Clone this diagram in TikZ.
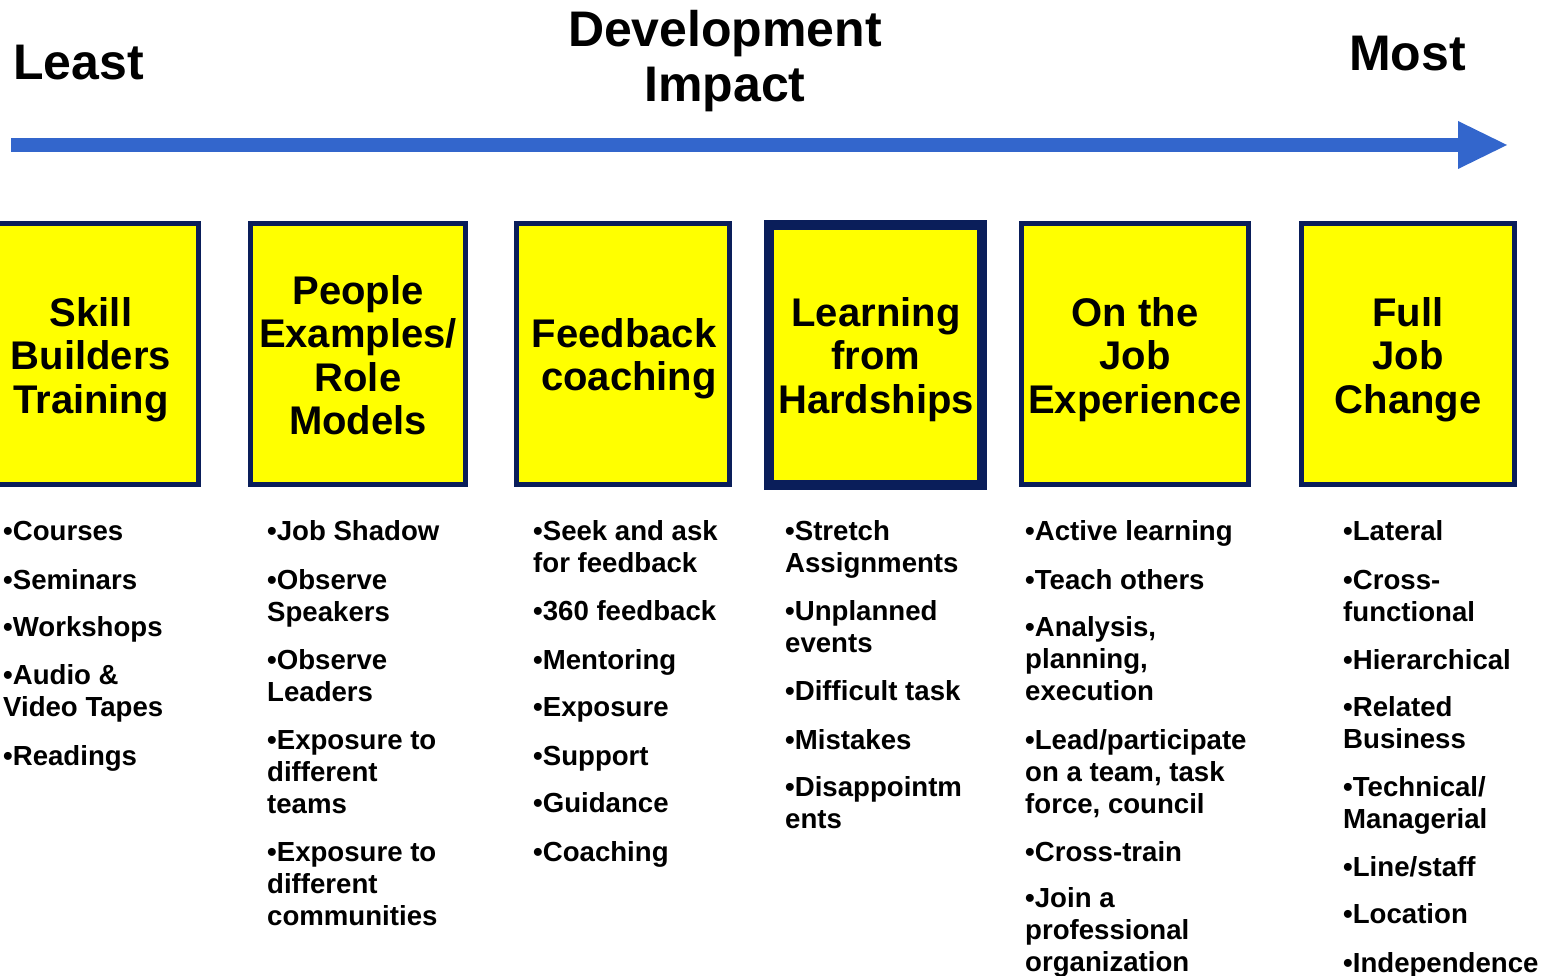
\documentclass[tikz,border=0pt]{standalone}
\usepackage{fontspec}
\setmainfont{Liberation Sans}
\definecolor{boxnavy}{RGB}{10,30,90}
\definecolor{boxyellow}{RGB}{255,255,0}
\definecolor{impactblue}{RGB}{51,102,204}
\newcommand\stk[1]{\begin{tabular}[t]{@{}l@{}}#1\end{tabular}}
\newcommand\ctr[1]{\begin{tabular}[t]{@{}c@{}}#1\end{tabular}}
\tikzset{
  stagebox/.style={draw=boxnavy, fill=boxyellow, line width=5pt, inner sep=0pt},
  stagetitle/.style={anchor=base, inner sep=0pt, font=\fontsize{40}{43.5}\selectfont\bfseries},
  listitem/.style={anchor=base west, inner sep=0pt, font=\fontsize{27.6}{32}\selectfont\bfseries},
  headline/.style={inner sep=0pt, font=\fontsize{50}{55}\selectfont\bfseries},
  impactline/.style={draw=impactblue, line width=14pt},
}
\begin{document}
\begin{tikzpicture}[x=1pt,y=-1pt]
\useasboundingbox (0,0) rectangle (1554,976);
\clip (0,0) rectangle (1554,976);

% headings
\node[headline, anchor=base west] (least) at (13,80) {Least};
\node[headline, anchor=base west] (most) at (1349,71) {Most};
\node[headline, anchor=base] (devimpact) at (725,47) {\ctr{Development\\Impact}};

% arrow
\coordinate (arrowstart) at (11,145);
\coordinate (headbase) at (1458,145);
\coordinate (arrowtip) at (1507,145);
\draw[impactline] (arrowstart) -- (headbase);
\fill[impactblue] (1458,121) -- (arrowtip) -- (1458,169) -- cycle;

% stage boxes
\node[stagebox, minimum width=215pt, minimum height=261pt] (b1) at (91,354) {};
\node[stagebox, minimum width=215pt, minimum height=261pt] (b2) at (358,354) {};
\node[stagebox, minimum width=213pt, minimum height=261pt] (b3) at (623,354) {};
\node[stagebox, line width=10pt, minimum width=213pt, minimum height=260pt] (b4) at (875.5,355) {};
\node[stagebox, minimum width=227pt, minimum height=261pt] (b5) at (1135,354) {};
\node[stagebox, minimum width=213pt, minimum height=261pt] (b6) at (1408,354) {};

\node[stagetitle] (t1) at (91,326) {\ctr{Skill\\Builders\\Training}};
\node[stagetitle] (t2) at (358,304) {\ctr{People\\Examples/\\Role\\Models}};
\node[stagetitle] (t3) at (624,347) {\ctr{Feedback\\\hspace*{10pt}coaching}};
\node[stagetitle] (t4) at (876,326) {\ctr{Learning\\from\\Hardships}};
\node[stagetitle] (t5) at (1135,326) {\ctr{On the\\Job\\Experience}};
\node[stagetitle] (t6) at (1408,326) {\ctr{Full\\Job\\Change}};

% column 1
\node[listitem] (c1a) at (3,540) {•Courses};
\node[listitem] (c1b) at (3,589) {•Seminars};
\node[listitem] (c1c) at (3,636) {•Workshops};
\node[listitem] (c1d) at (3,684) {\stk{•Audio \&\\Video Tapes}};
\node[listitem] (c1e) at (3,765) {•Readings};

% column 2
\node[listitem] (c2a) at (267,540) {•Job Shadow};
\node[listitem] (c2b) at (267,589) {\stk{•Observe\\Speakers}};
\node[listitem] (c2c) at (267,669) {\stk{•Observe\\Leaders}};
\node[listitem] (c2d) at (267,749) {\stk{•Exposure to\\different\\teams}};
\node[listitem] (c2e) at (267,861) {\stk{•Exposure to\\different\\communities}};

% column 3
\node[listitem] (c3a) at (533,540) {\stk{•Seek and ask\\for feedback}};
\node[listitem] (c3b) at (533,620) {•360 feedback};
\node[listitem] (c3c) at (533,669) {•Mentoring};
\node[listitem] (c3d) at (533,716) {•Exposure};
\node[listitem] (c3e) at (533,765) {•Support};
\node[listitem] (c3f) at (533,812) {•Guidance};
\node[listitem] (c3g) at (533,861) {•Coaching};

% column 4
\node[listitem] (c4a) at (785,540) {\stk{•Stretch\\Assignments}};
\node[listitem] (c4b) at (785,620) {\stk{•Unplanned\\events}};
\node[listitem] (c4c) at (785,700) {•Difficult task};
\node[listitem] (c4d) at (785,749) {•Mistakes};
\node[listitem] (c4e) at (785,796) {\stk{•Disappointm\\ents}};

% column 5
\node[listitem] (c5a) at (1025,540) {•Active learning};
\node[listitem] (c5b) at (1025,589) {•Teach others};
\node[listitem] (c5c) at (1025,636) {\stk{•Analysis,\\planning,\\execution}};
\node[listitem] (c5d) at (1025,749) {\stk{•Lead/participate\\on a team, task\\force, council}};
\node[listitem] (c5e) at (1025,861) {•Cross-train};
\node[listitem] (c5f) at (1025,907) {\stk{•Join a\\professional\\organization}};

% column 6
\node[listitem] (c6a) at (1343,540) {•Lateral};
\node[listitem] (c6b) at (1343,589) {\stk{•Cross-\\functional}};
\node[listitem] (c6c) at (1343,669) {•Hierarchical};
\node[listitem] (c6d) at (1343,716) {\stk{•Related\\Business}};
\node[listitem] (c6e) at (1343,796) {\stk{•Technical/\\Managerial}};
\node[listitem] (c6f) at (1343,876) {•Line/staff};
\node[listitem] (c6g) at (1343,923) {•Location};
\node[listitem] (c6h) at (1343,972) {•Independence};
\end{tikzpicture}
\end{document}
